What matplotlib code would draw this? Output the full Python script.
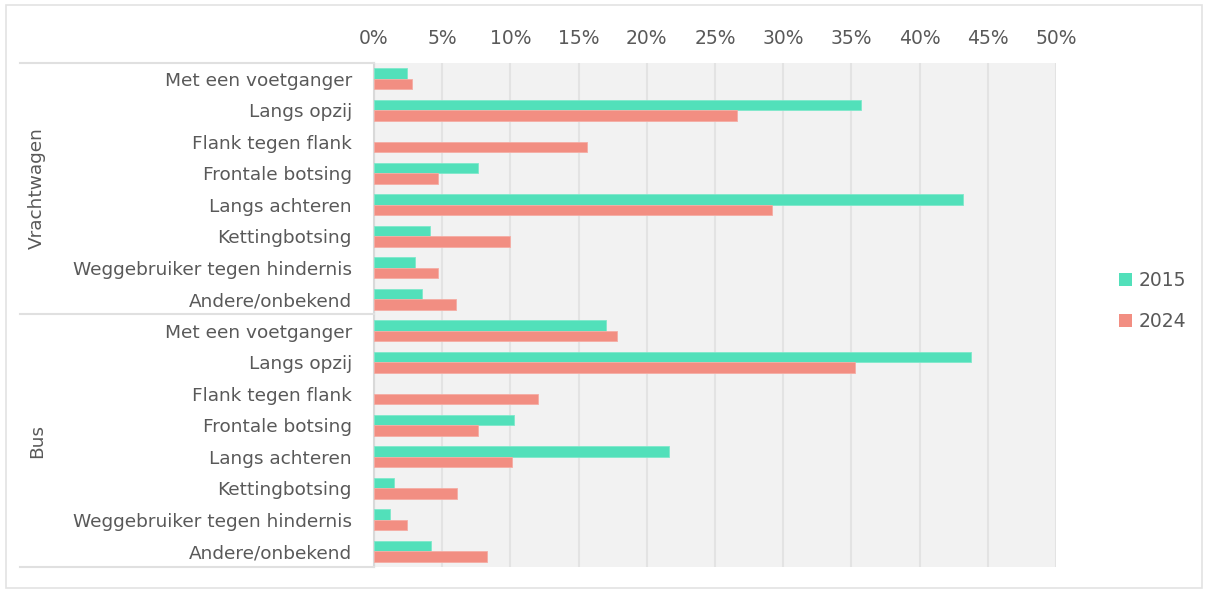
import numpy as np
import matplotlib.pyplot as plt
from matplotlib.ticker import PercentFormatter, MultipleLocator
from matplotlib.patches import Rectangle
from matplotlib.lines import Line2D

# botsingstypes per voertuiggroep, aandeel in %
types = ['Met een voetganger', 'Langs opzij', 'Flank tegen flank', 'Frontale botsing',
         'Langs achteren', 'Kettingbotsing', 'Weggebruiker tegen hindernis', 'Andere/onbekend']
groups = ['Vrachtwagen', 'Bus']

vracht_2015 = [2.4, 35.7, 0.0, 7.6, 43.2, 4.1, 3.0, 3.5]
vracht_2024 = [2.8, 26.6, 15.6, 4.7, 29.2, 10.0, 4.7, 6.0]
bus_2015 = [17.0, 43.8, 0.0, 10.3, 21.6, 1.5, 1.2, 4.2]
bus_2024 = [17.8, 35.3, 12.0, 7.6, 10.1, 6.1, 2.4, 8.3]

green = '#52E0BA'
red = '#F28E82'
txt = '#595959'

W, H = 1205, 592
fig = plt.figure(figsize=(W / 100, H / 100), dpi=100)
fig.patch.set_facecolor('white')

# plot area in pixels: left 374, right 1056, top 63, bottom 567
ax = fig.add_axes([374 / W, (H - 567) / H, 682 / W, 504 / H])
ax.set_facecolor('#F2F2F2')

v15 = vracht_2015 + bus_2015
v24 = vracht_2024 + bus_2024
labels = types + types
y = np.arange(len(labels))
h = 1 / 3
ax.barh(y - h / 2, v15, height=h, color=green,
        edgecolor=['#7FE8CB' if v > 0 else 'none' for v in v15], linewidth=0.6,
        label='2015', zorder=3)
ax.barh(y + h / 2, v24, height=h, color=red,
        edgecolor=['#F5ADA4' if v > 0 else 'none' for v in v24], linewidth=0.6,
        label='2024', zorder=3)

ax.set_ylim(len(labels) - 0.5, -0.5)
ax.set_yticks(y)
ax.set_yticklabels(labels, fontsize=13.3, color=txt)
ax.tick_params(axis='y', length=0, pad=16)

ax.set_xlim(0, 50)
ax.xaxis.tick_top()
ax.xaxis.set_major_locator(MultipleLocator(5))
ax.xaxis.set_major_formatter(PercentFormatter(decimals=0))
ax.tick_params(axis='x', length=0, pad=11, labelsize=13.5, labelcolor=txt)
ax.grid(axis='x', color='#E3E3E3', linewidth=1.5, zorder=0)
for s in ax.spines.values():
    s.set_visible(False)
ax.spines['left'].set_visible(True)
ax.spines['left'].set_color('#D9D9D9')
ax.spines['left'].set_linewidth(1.5)

# outer chart border
fig.add_artist(Rectangle((6 / W, 4 / H), 1196 / W, 583 / H, transform=fig.transFigure,
                         fill=False, edgecolor='#E3E3E3', linewidth=1.2))

# group separators of the category axis
for py in [63, 314, 567]:
    fig.add_artist(Line2D([20 / W, 374 / W], [(H - py) / H] * 2, transform=fig.transFigure,
                          color='#E0E0E0', linewidth=1.5))
for g, cy in zip(groups, [188, 441]):
    fig.text(37 / W, (H - cy) / H, g, rotation=90, ha='center', va='center',
             fontsize=13.3, color=txt)

handles, lbls = ax.get_legend_handles_labels()
leg = fig.legend(handles, lbls, loc='center left', bbox_to_anchor=(1102 / W, (H - 301) / H),
                 frameon=False, fontsize=13.5, handlelength=0.7, handleheight=0.7,
                 handletextpad=0.35, labelspacing=1.2, labelcolor=txt)
for p in leg.get_patches():
    p.set_edgecolor('none')

fig.savefig('out.png', dpi=100)
